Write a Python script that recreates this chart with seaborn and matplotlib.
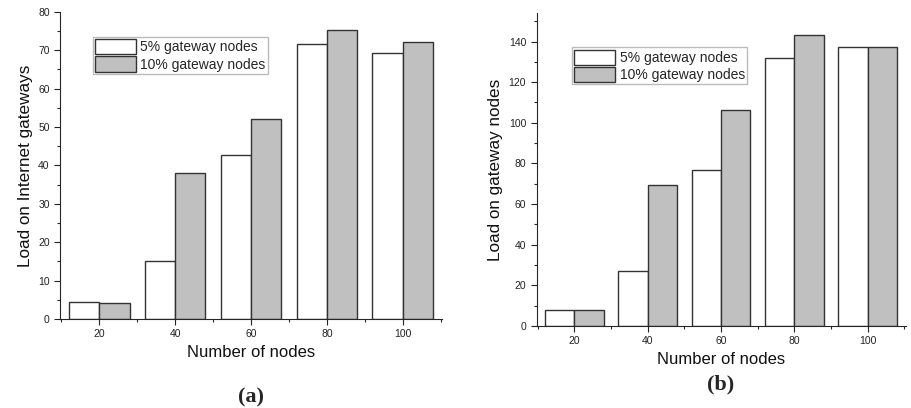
import numpy as np
import pandas as pd
import seaborn as sns
from matplotlib import pyplot as plt
from matplotlib.ticker import MultipleLocator

# Data
nodes = [20, 40, 60, 80, 100]
load_internet_5 = [4.5, 15.0, 42.7, 71.5, 69.3]
load_internet_10 = [4.2, 38.1, 52.1, 75.2, 72.2]
load_gateway_5 = [8.0, 26.9, 76.7, 132.0, 137.2]
load_gateway_10 = [7.7, 69.5, 106.1, 143.3, 137.5]
series = ['5% gateway nodes', '10% gateway nodes']

sns.set_style('ticks')
plt.rcParams['font.family'] = ['Liberation Sans', 'DejaVu Sans']

def make_df(a, b):
    return pd.DataFrame({
        'nodes': nodes * 2,
        'load': a + b,
        'series': [series[0]] * len(nodes) + [series[1]] * len(nodes),
    })

fig = plt.figure(figsize=(9.11, 4.08), dpi=100)
ax1 = fig.add_axes([0.066, 0.218, 0.419, 0.753])
ax2 = fig.add_axes([0.589, 0.201, 0.405, 0.767])

# axis, data, y label, y top, major step, minor step, tag, legend anchor, tag y
panels = [
    (ax1, make_df(load_internet_5, load_internet_10), 'Load on Internet gateways',
     80, 10, 5, '(a)', (0.085, 0.918), -0.223),
    (ax2, make_df(load_gateway_5, load_gateway_10), 'Load on gateway nodes',
     154, 20, 10, '(b)', (0.095, 0.89), -0.154),
]
pal = {series[0]: 'white', series[1]: '#c0c0c0'}

for ax, df, ylab, ytop, ymaj, ymin, tag, anchor, tag_y in panels:
    sns.barplot(data=df, x='nodes', y='load', hue='series', palette=pal,
                native_scale=True, width=0.8, edgecolor='#333333', linewidth=1.0,
                saturation=1, ax=ax, legend=True)
    ax.set_xlim(9.7, 110.3)
    ax.set_ylim(0, ytop)
    ax.set_xticks(nodes)
    ax.xaxis.set_minor_locator(MultipleLocator(10))
    ax.yaxis.set_major_locator(MultipleLocator(ymaj))
    ax.yaxis.set_minor_locator(MultipleLocator(ymin))
    ax.tick_params(which='major', length=4, width=0.8, labelsize=7.5, colors='#222222')
    ax.tick_params(which='minor', length=2.5, width=0.8)
    sns.despine(ax=ax)
    ax.set_xlabel('Number of nodes', fontsize=12, color='#111111')
    ax.set_ylabel(ylab, fontsize=12.3, color='#111111')
    h, l = ax.get_legend_handles_labels()
    ax.legend(h, l, loc='upper left', bbox_to_anchor=anchor,
              fontsize=10, frameon=True, fancybox=False, edgecolor='#aaaaaa',
              handlelength=3.0, handleheight=1.3, handletextpad=0.3, borderpad=0.15,
              labelspacing=0.15, borderaxespad=0)
    ax.text(0.5, tag_y, tag, transform=ax.transAxes,
            ha='center', va='top', fontsize=16, fontweight='bold',
            family=['Liberation Serif', 'DejaVu Serif'])

fig.savefig('out.png', dpi=100)
